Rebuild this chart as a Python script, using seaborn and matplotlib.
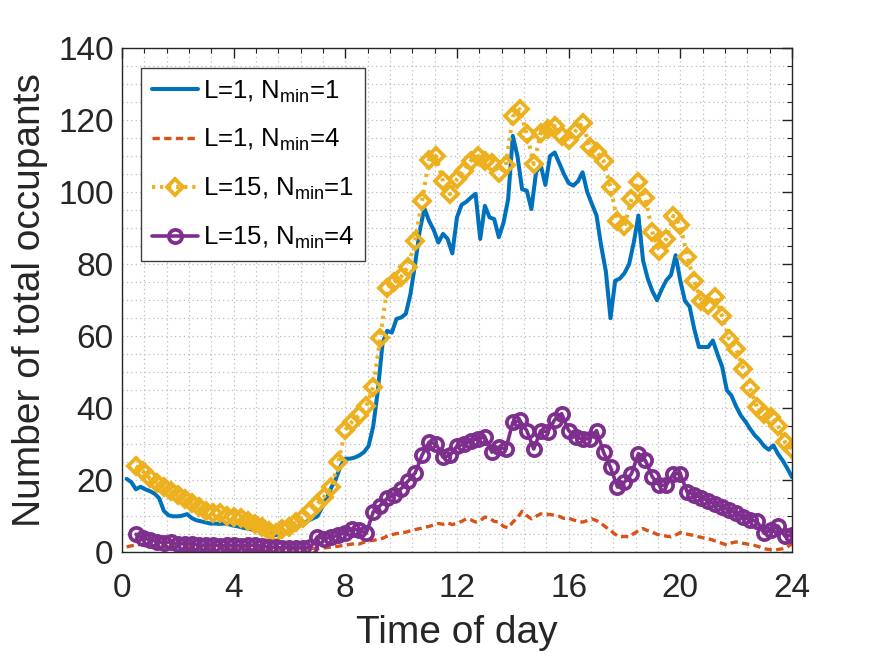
import numpy as np
import pandas as pd
import matplotlib
matplotlib.use('Agg')
import matplotlib.pyplot as plt
from matplotlib.ticker import MultipleLocator
import seaborn as sns

# L=1 series: one value every 10 minutes (t = 1/6 h ... 24 h), 6 values per hour
occ_l1_n1 = [
    20.4, 19.5, 17.5, 18.2, 17.5, 17.0,
    16.3, 15.0, 11.5, 10.3, 10.0, 10.0,
    10.2, 10.6, 9.5, 8.9, 8.6, 8.3,
    8.0, 8.0, 7.9, 8.0, 7.8, 7.4,
    7.2, 6.8, 6.6, 6.3, 6.0, 5.7,
    5.4, 5.2, 4.8, 5.0, 5.5, 6.0,
    6.6, 7.2, 8.0, 8.8, 9.4, 10.0,
    12.5, 15.0, 18.0, 20.5, 24.0, 26.0,
    26.0, 26.3, 26.9, 27.8, 29.5, 35.0,
    45.0, 58.0, 61.5, 61.0, 64.8, 65.2,
    66.2, 71.7, 80.0, 89.3, 95.5, 92.0,
    89.5, 86.0, 88.4, 87.0, 83.0, 93.0,
    96.5, 97.3, 98.5, 99.5, 87.0, 96.2,
    93.0, 92.5, 87.5, 91.5, 98.0, 115.6,
    110.0, 100.8, 100.4, 95.3, 105.5, 107.5,
    102.0, 110.0, 111.0, 108.0, 105.0, 102.5,
    101.8, 103.0, 105.5, 100.0, 96.7, 93.5,
    85.0, 78.0, 65.0, 75.4, 76.0, 77.5,
    80.0, 86.0, 93.5, 81.0, 76.0, 72.5,
    70.0, 73.0, 75.5, 77.0, 82.5, 75.4,
    69.8, 68.2, 62.0, 57.0, 57.0, 57.0,
    58.8, 55.0, 51.5, 45.0, 43.5, 40.5,
    38.0, 36.3, 34.3, 32.5, 31.2, 29.5,
    28.5, 29.7, 27.3, 25.5, 23.3, 20.9,
]
occ_l1_n4 = [
    1.5, 1.8, 2.0, 2.2, 2.0, 2.0,
    1.8, 1.9, 1.7, 1.6, 1.8, 1.6,
    1.5, 1.6, 1.4, 1.5, 1.3, 1.4,
    1.3, 1.2, 1.3, 1.1, 1.2, 1.3,
    1.2, 1.1, 1.0, 1.2, 1.0, 1.1,
    1.0, 0.9, 1.0, 0.8, 0.9, 1.0,
    0.9, 1.0, 0.8, 1.0, 1.1, 1.0,
    1.2, 1.3, 1.5, 1.6, 1.8, 2.0,
    2.2, 2.4, 2.3, 2.8, 3.2, 3.3,
    3.6, 3.9, 4.5, 4.9, 5.2, 5.4,
    5.6, 6.0, 6.3, 6.6, 6.9, 7.2,
    7.6, 8.0, 7.8, 8.2, 7.7, 8.1,
    8.6, 9.3, 9.0, 8.4, 8.8, 9.8,
    9.5, 8.6, 8.4, 7.2, 6.8, 8.4,
    9.6, 11.4, 10.2, 9.3, 10.0, 10.7,
    10.6, 10.5, 10.3, 10.0, 9.4, 9.5,
    9.0, 8.6, 8.4, 8.8, 9.3, 8.8,
    8.0, 7.0, 6.1, 5.0, 4.3, 4.4,
    4.3, 5.2, 6.0, 6.6, 6.0, 5.6,
    5.0, 4.7, 4.5, 4.3, 4.8, 5.5,
    5.2, 4.9, 4.7, 4.3, 4.0, 3.8,
    3.4, 2.9, 2.5, 2.0, 2.6, 2.9,
    2.6, 2.4, 2.1, 1.9, 1.5, 1.0,
    0.8, 0.6, 0.8, 1.0, 1.5, 2.4,
]

# L=15 series: one value every 15 minutes (t = 0.5 h ... 24 h)
occ_l15_n1 = [
    24.0, 22.5, 20.5,
    19.3, 18.0, 17.0, 15.8,
    14.8, 13.6, 12.5, 11.6,
    10.8, 10.8, 10.2, 9.8,
    9.4, 8.6, 7.8, 7.0,
    6.0, 5.4, 6.4, 7.0,
    8.5, 9.5, 11.6, 13.5,
    15.5, 18.0, 25.0, 34.0,
    36.3, 38.0, 40.5, 46.0,
    59.5, 73.5, 75.0, 76.5,
    79.3, 86.5, 97.6, 109.0,
    110.0, 103.0, 99.4, 103.6,
    106.0, 108.7, 110.0, 108.5,
    108.2, 105.4, 107.5, 121.0,
    123.0, 116.1, 107.8, 116.5,
    117.5, 118.4, 115.6, 114.5,
    117.0, 119.3, 112.6, 111.2,
    108.7, 101.3, 92.0, 90.5,
    98.0, 102.7, 98.3, 88.8,
    83.7, 87.0, 93.4, 91.0,
    82.0, 75.2, 69.9, 68.8,
    71.0, 65.5, 59.2, 56.5,
    51.0, 45.5, 40.3, 38.5,
    37.5, 35.2, 30.6, 28.7,
]
occ_l15_n4 = [
    5.0, 4.0, 3.5,
    3.0, 2.7, 2.9, 2.3,
    2.4, 2.4, 2.0, 2.0,
    2.1, 1.8, 1.9, 2.0,
    1.8, 2.0, 2.0, 1.7,
    1.5, 1.4, 1.2, 1.3,
    1.2, 1.3, 1.4, 4.3,
    3.8, 4.2, 4.8, 5.5,
    6.5, 6.1, 5.3, 11.2,
    13.0, 15.0, 15.8, 17.7,
    19.8, 22.0, 27.0, 30.6,
    30.1, 26.4, 26.9, 29.5,
    30.0, 31.0, 31.5, 32.0,
    27.8, 29.2, 28.7, 36.1,
    36.6, 33.8, 28.7, 33.8,
    33.4, 36.8, 38.5, 33.8,
    32.0, 31.5, 31.5, 33.8,
    27.8, 23.6, 18.1, 19.5,
    21.8, 27.4, 25.5, 20.9,
    18.6, 18.6, 21.8, 21.8,
    16.7, 16.0, 15.2, 14.3,
    13.3, 12.6, 11.7, 10.9,
    9.8, 9.0, 8.6, 5.3,
    6.1, 7.3, 4.5, 4.7,
]

t_l1 = np.arange(1, len(occ_l1_n1) + 1) / 6
t_l15 = 0.25 + np.arange(1, len(occ_l15_n1) + 1) * 0.25

df_l1 = pd.DataFrame({'t': t_l1, 'n1': occ_l1_n1, 'n4': occ_l1_n4})
df_l15 = pd.DataFrame({'t': t_l15, 'n1': occ_l15_n1, 'n4': occ_l15_n4})

sns.set_style('white')
plt.rcParams['font.family'] = ['Liberation Sans', 'DejaVu Sans']
plt.rcParams['mathtext.fontset'] = 'custom'
plt.rcParams['mathtext.rm'] = 'Liberation Sans'
plt.rcParams['mathtext.it'] = 'Liberation Sans:italic'

fig = plt.figure(figsize=(8.75, 6.57), dpi=100)
ax = fig.add_axes([0.1394, 0.1593, 0.7657, 0.7676])

dark = '#262626'

sns.lineplot(data=df_l1, x='t', y='n1', ax=ax, color='#0072BD', linewidth=2.9,
             label='L=1, N$_{\\mathrm{min}}$=1')
sns.lineplot(data=df_l1, x='t', y='n4', ax=ax, color='#D95319', linewidth=2.4,
             linestyle=(0, (2.2, 1.3)), label='L=1, N$_{\\mathrm{min}}$=4')
sns.lineplot(data=df_l15, x='t', y='n1', ax=ax, color='#EDB120', linewidth=2.9,
             linestyle=(0, (0.8, 1.2)), marker='D', markersize=8.3,
             markerfacecolor='none', markeredgecolor='#EDB120', markeredgewidth=2.8,
             label='L=15, N$_{\\mathrm{min}}$=1')
sns.lineplot(data=df_l15, x='t', y='n4', ax=ax, color='#7E2F8E', linewidth=2.6,
             marker='o', markersize=9.5, markerfacecolor='none',
             markeredgecolor='#7E2F8E', markeredgewidth=2.7,
             label='L=15, N$_{\\mathrm{min}}$=4')

ax.set_xlim(0, 24)
ax.set_ylim(0, 140)
ax.set_xticks(range(0, 25, 4))
ax.set_yticks(range(0, 141, 20))
ax.xaxis.set_minor_locator(MultipleLocator(0.8))
ax.yaxis.set_minor_locator(MultipleLocator(5))

ax.grid(True, which='both', color='#bdbdbd', linestyle=(0, (1, 2.5)), linewidth=0.9)
ax.set_axisbelow(True)

ax.tick_params(which='both', direction='in', top=True, right=True, colors=dark,
               labelsize=24)
ax.tick_params(which='major', length=7, width=1)
ax.tick_params(which='minor', length=3.5, width=0.8)
ax.tick_params(axis='x', which='major', pad=15)
ax.tick_params(axis='y', which='major', pad=6)
for s in ax.spines.values():
    s.set_color(dark)
    s.set_linewidth(1)

ax.set_xlabel('Time of day', fontsize=28, color=dark, labelpad=8)
ax.set_ylabel('Number of total occupants', fontsize=28, color=dark, labelpad=7)

leg = ax.legend(loc='upper left', bbox_to_anchor=(0.029, 0.96), borderaxespad=0,
                fontsize=18.5, frameon=True, fancybox=False, framealpha=1,
                edgecolor='#404040', handlelength=1.8, handletextpad=0.2,
                labelspacing=0.88, borderpad=0.4)
leg.get_frame().set_linewidth(1)
for txt in leg.get_texts():
    txt.set_color('black')

fig.savefig('out.png', dpi=100)
